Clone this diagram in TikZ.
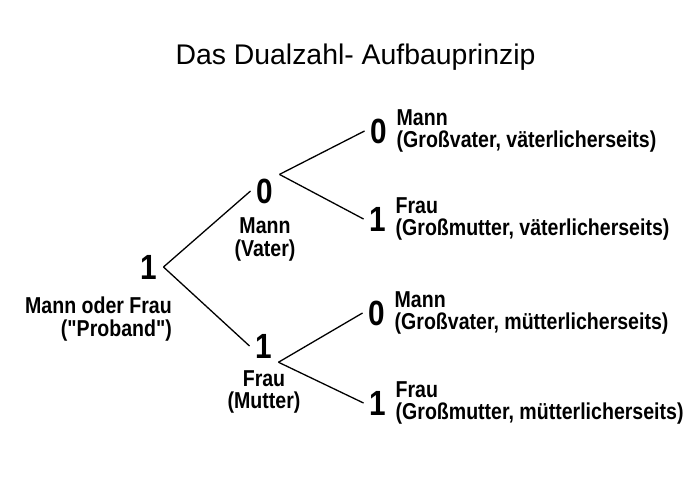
\documentclass[tikz,border=0pt]{standalone}
\usepackage{fontspec}
\newfontfamily\titlefont{Liberation Sans}
\newfontfamily\narrowfont[FakeStretch=0.85]{Liberation Sans}
\usetikzlibrary{positioning}
\tikzstyle{digit}=[
	inner xsep=6,
	inner ysep=4,
	font=\narrowfont\bfseries\fontsize{35}{35}\selectfont]
\tikzstyle{person}=[
	inner sep=0,
	align=center,
	font=\narrowfont\bfseries\fontsize{23}{22.5}\selectfont]
\tikzstyle{branch}=[
	line width=1.3]
\tikzstyle{titel}=[
	inner sep=0,
	font=\titlefont\fontsize{28.4}{30}\selectfont]

\begin{document}
\begin{tikzpicture}[x=1pt,y=-1pt]
	\useasboundingbox (0,0) rectangle (700,484);
	\node[titel,anchor=base]	(titel)	at (355.5,65)	{Das Dualzahl- Aufbauprinzip};
	% Proband
	\node[digit]	(proband)	at (149,267)	{1};
	\node[person,align=right,anchor=north east]	(probandtext)	at (172,297)	{Mann oder Frau\\("Proband")};
	% Eltern
	\node[digit]	(vater)	at (265,191)	{0};
	\node[person]	(vatertext)	[below=10pt of vater]	{Mann\\(Vater)};
	\node[digit]	(mutter)	at (264,346)	{1};
	\node[person]	(muttertext)	[below=8pt of mutter]	{Frau\\(Mutter)};
	\draw[branch]	(proband.east) -- (vater.west);
	\draw[branch]	(proband.east) -- (mutter.west);
	% Grosseltern
	\node[digit]	(gvv)	at (379,131)	{0};
	\node[person,align=left]	(gvvtext)	[right=3pt of gvv]	{Mann\\(Großvater, väterlicherseits)};
	\node[digit]	(gmv)	at (378,219)	{1};
	\node[person,align=left]	(gmvtext)	[right=3pt of gmv]	{Frau\\(Großmutter, väterlicherseits)};
	\node[digit]	(gvm)	at (377,313)	{0};
	\node[person,align=left]	(gvmtext)	[right=3pt of gvm]	{Mann\\(Großvater, mütterlicherseits)};
	\node[digit]	(gmm)	at (378,403)	{1};
	\node[person,align=left]	(gmmtext)	[right=3pt of gmm]	{Frau\\(Großmutter, mütterlicherseits)};
	\draw[branch]	(vater.north east) -- (gvv.west);
	\draw[branch]	(vater.north east) -- (gmv.west);
	\draw[branch]	(mutter.south east) -- (gvm.west);
	\draw[branch]	(mutter.south east) -- (gmm.west);
\end{tikzpicture}
\end{document}
